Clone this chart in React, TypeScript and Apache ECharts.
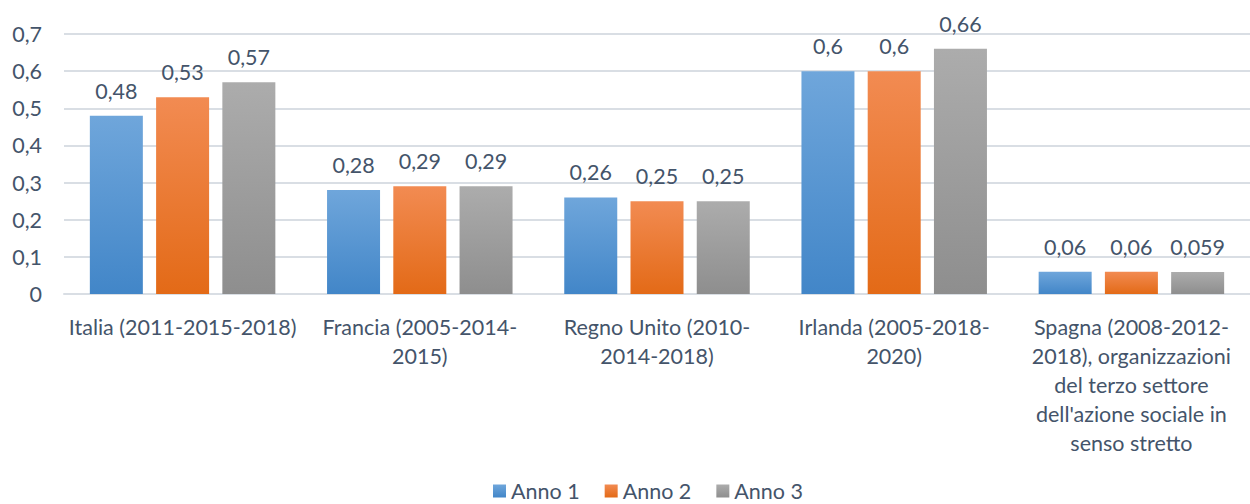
import React, { useEffect, useRef } from "react";
import * as echarts from "echarts";

const categories = [
  "Italia (2011-2015-2018)",
  "Francia (2005-2014-\n2015)",
  "Regno Unito (2010-\n2014-2018)",
  "Irlanda (2005-2018-\n2020)",
  "Spagna (2008-2012-\n2018), organizzazioni\ndel terzo settore\ndell'azione sociale in\nsenso stretto",
];
const seriesNames = ["Anno 1", "Anno 2", "Anno 3"];
const anno1 = [0.48, 0.28, 0.26, 0.6, 0.06];
const anno2 = [0.53, 0.29, 0.25, 0.6, 0.06];
const anno3 = [0.57, 0.29, 0.25, 0.66, 0.059];
const yTicks = [0, 0.1, 0.2, 0.3, 0.4, 0.5, 0.6, 0.7];

const gradients = [
  ["#6FA6DB", "#4286C8"],
  ["#F28B52", "#E36A17"],
  ["#ACACAC", "#8E8E8E"],
];

const FONT = "Lato";
const TEXT = "#44546A";
const FS = 21.5;

const fmt = (v: number) => String(v).replace(".", ",");

export default function App() {
  const ref = useRef<HTMLDivElement>(null);
  useEffect(() => {
    if (!ref.current) return;
    const chart = echarts.init(ref.current, undefined, { renderer: "svg" });
    const datasets = [anno1, anno2, anno3];
    chart.setOption({
      animation: false,
      textStyle: { fontFamily: FONT },
      grid: { left: 64, right: -9, top: 34, bottom: 210, containLabel: false },
      legend: {
        left: 493,
        top: 480,
        padding: 0,
        itemWidth: 13,
        itemHeight: 13,
        itemGap: 25,
        icon: "rect",
        data: seriesNames,
        textStyle: { color: TEXT, fontSize: FS, fontFamily: FONT, lineHeight: 20 },
      },
      xAxis: {
        type: "category",
        data: categories,
        axisTick: { show: false },
        axisLine: { lineStyle: { color: "#D9DEE4", width: 2 } },
        axisLabel: {
          interval: 0,
          color: TEXT,
          fontSize: FS,
          lineHeight: 29,
          margin: 18,
          fontFamily: FONT,
          align: "center",
        },
      },
      yAxis: {
        type: "value",
        min: 0,
        max: yTicks[yTicks.length - 1],
        interval: 0.1,
        axisLine: { show: false },
        axisTick: { show: false },
        splitLine: { lineStyle: { color: "#D9DEE4", width: 2 } },
        axisLabel: {
          color: TEXT,
          fontSize: FS,
          margin: 22,
          fontFamily: FONT,
          formatter: (v: number) => fmt(Math.round(v * 10) / 10),
        },
      },
      series: datasets.map((d, i) => ({
        name: seriesNames[i],
        type: "bar",
        data: d,
        barWidth: 53,
        barGap: "25%",
        itemStyle: {
          color: new echarts.graphic.LinearGradient(0, 0, 0, 1, [
            { offset: 0, color: gradients[i][0] },
            { offset: 1, color: gradients[i][1] },
          ]),
        },
        label: {
          show: true,
          position: "top",
          distance: 13,
          color: TEXT,
          fontSize: FS,
          lineHeight: 24,
          fontFamily: FONT,
          formatter: (p: any) => fmt(p.value),
        },
      })),
    });
    return () => chart.dispose();
  }, []);
  return (
    <div
      ref={ref}
      style={{ position: "fixed", left: 0, top: 0, width: 1250, height: 504, background: "#fff" }}
    />
  );
}
